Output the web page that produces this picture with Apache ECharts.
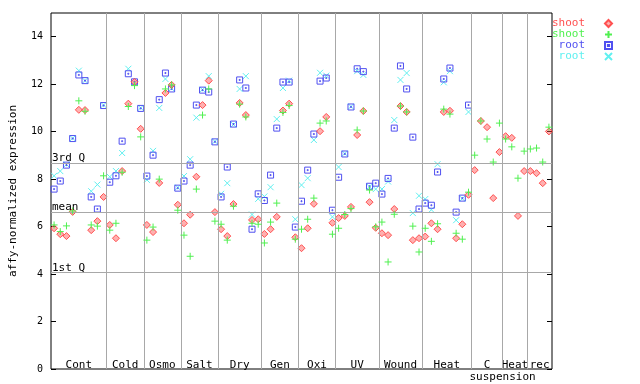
<!DOCTYPE html>
<html><head><meta charset="utf-8">
<script src="https://cdn.jsdelivr.net/npm/echarts@6/dist/echarts.min.js"></script>
<style>html,body{margin:0;padding:0;background:#fff}#c{width:640px;height:384px}</style>
</head><body><div id="c"></div>
<script>
// ---- data (one value per sample slot) ----
const shootRed = [5.93,5.68,5.60,6.62,10.92,10.91,5.85,6.23,7.25,
  6.07,5.51,8.34,11.18,12.10,10.12,
  6.07,5.77,7.84,11.63,11.97,6.92,
  6.14,6.50,8.10,11.12,12.15,6.61,
  5.89,5.60,6.95,11.21,10.70,6.28,6.31,
  5.69,5.89,6.41,10.89,11.18,5.55,
  5.09,5.93,6.96,10.02,10.62,6.16,
  6.36,6.45,6.83,9.86,10.87,7.03,5.95,
  5.72,5.64,6.74,11.08,10.83,5.43,5.51,
  5.58,6.14,5.89,10.83,10.88,5.51,6.10,7.34,
  8.38,10.45,10.19,7.20,9.14,
  9.81,9.74,6.45,8.34,
  8.34,8.25,7.83,10.01];
const shootGreen = [6.07,5.79,6.03,6.66,11.30,10.86,6.07,6.02,8.14,
  5.85,6.14,8.29,11.06,11.94,9.78,
  5.43,5.98,8.00,11.80,11.97,6.69,
  5.64,4.75,7.58,10.70,11.80,6.23,
  6.10,5.43,6.86,11.16,10.62,6.14,6.10,
  5.31,6.19,6.99,10.81,11.10,5.47,
  5.89,6.31,7.20,10.36,10.45,5.68,
  5.93,6.51,6.76,10.07,10.87,7.54,5.99,
  6.19,4.51,6.52,11.08,10.83,6.02,4.93,
  5.93,5.38,6.12,10.95,10.74,5.72,5.47,7.45,
  9.01,10.45,9.69,8.72,10.36,
  9.69,9.36,8.04,9.18,
  9.27,9.31,8.72,10.19];
const rootBlue = [7.58,7.92,8.59,9.71,12.39,12.15,7.25,6.74,11.10,
  7.87,8.14,9.60,12.44,12.10,10.98,
  8.13,9.01,11.35,12.47,11.80,7.62,
  7.92,8.59,11.12,11.75,11.67,9.57,
  7.25,8.51,10.32,12.18,11.84,5.89,7.38,
  7.10,8.17,10.15,12.09,12.09,5.98,
  7.07,8.38,9.90,12.13,12.26,6.69,
  8.08,9.06,11.04,12.65,12.53,7.70,7.83,
  7.37,8.03,10.15,12.77,11.80,9.77,6.74,
  6.99,6.90,8.30,12.22,12.68,6.61,7.20,11.12];
const rootCyan = [8.14,8.34,8.62,9.72,12.57,12.15,7.49,7.77,11.12,
  8.10,8.34,9.10,12.65,12.05,11.00,
  7.97,9.19,11.00,12.22,11.82,7.65,
  8.13,8.84,10.59,11.77,12.34,9.59,
  7.38,7.83,10.30,11.80,12.34,6.51,7.17,
  7.27,7.66,10.53,11.84,12.15,6.31,
  7.75,8.04,9.65,12.48,12.36,6.41,
  8.51,9.08,11.06,12.55,12.39,7.68,7.58,
  7.58,7.90,10.49,12.18,12.47,6.57,7.30,
  7.16,6.71,8.63,12.08,12.55,6.27,7.18,10.83];
const groupNames = ['Cont','Cold','Osmo','Salt','Dry','Gen','Oxi','UV','Wound','Heat','C','Heat','rec'];
const groupEdges = [0,9,15,21,27,34,40,46,53,60,68,73,77,81];
const secondLineText = 'suspension';
const secondLineAt = 73;
const yTicks = [0,2,4,6,8,10,12,14];
const refNames = ['3rd Q','mean','1st Q'];
const refValues = [8.675,6.61,4.08];
const seriesNames = ['shoot','shoot ','root','root '];
const seriesColors = ['#ff5050','#50f050','#5050f0','#60f0f0'];

const FONT = 'DejaVu Sans Mono';
const toPts = arr => arr.map((v,i)=>[i+0.5, v]);
const chart = echarts.init(document.getElementById('c'), null, {renderer:'canvas'});

const mk = (name, data, symbol, fill, stroke, z, size) => ({
  type:'scatter', name, data: toPts(data), symbol, symbolSize:size, z,
  itemStyle:{color:fill, borderColor:stroke, borderWidth:1, opacity:1},
  emphasis:{disabled:true}, animation:false
});

const option = {
  animation:false,
  backgroundColor:'#fff',
  grid:{left:44, right:88, top:13, bottom:15, show:true, borderColor:'#000', borderWidth:1, backgroundColor:'transparent'},
  legend:{
    data: seriesNames.map((n,i)=>({name:n, textStyle:{color:seriesColors[i]}})),
    orient:'vertical', right:27, top:18, padding:0, itemGap:0,
    align:'right', itemWidth:7, itemHeight:7,
    formatter: n => n.trim(),
    textStyle:{fontFamily:FONT, fontSize:11, lineHeight:11, padding:[0,15,0,0]},
    selectedMode:false
  },
  xAxis:{type:'value', min:0, max:81, axisLine:{show:false}, axisTick:{show:false},
    axisLabel:{show:false}, splitLine:{show:false}},
  yAxis:[
    {type:'value', min:0, max:15, position:'left',
      axisLine:{show:false}, splitLine:{show:false},
      axisTick:{show:true, inside:true, length:5, lineStyle:{color:'#000'}, customValues:yTicks},
      axisLabel:{show:true, margin:8, color:'#000', fontFamily:FONT, fontSize:10, customValues:yTicks},
      name:'affy-normalized expression', nameLocation:'middle', nameGap:32, nameRotate:90,
      nameTextStyle:{fontFamily:FONT, fontSize:11, color:'#000'}},
    {type:'value', min:0, max:15, position:'right',
      axisLine:{show:false}, splitLine:{show:false},
      axisTick:{show:true, inside:true, length:5, lineStyle:{color:'#000'}, customValues:yTicks},
      axisLabel:{show:false}}
  ],
  series:[
    {type:'scatter', name:'__guides', data:[], silent:true, z:1,
      markLine:{silent:true, symbol:'none', animation:false,
        lineStyle:{color:'#a8a8a8', width:1, type:'solid'},
        label:{show:false},
        emphasis:{disabled:true},
        data:[
          ...groupEdges.slice(1,-1).map(x=>({xAxis:x})),
          ...refValues.map((v,i)=>({yAxis:v, label:{show:true, formatter:refNames[i],
            position:'insideStartTop', distance:[1,-1], color:'#000', fontFamily:FONT, fontSize:11}}))
        ]}},
    mk(seriesNames[0], shootRed, 'diamond', 'rgba(255,80,80,0.45)', seriesColors[0], 4, 7),
    mk(seriesNames[1], shootGreen, 'path://M3,0V6M0,3H6', 'transparent', seriesColors[1], 5, 7),
    mk(seriesNames[2], rootBlue, 'path://M0,0H6V6H0Z M2.5,2.5H3.5V3.5H2.5Z', 'transparent', seriesColors[2], 3, 6),
    mk(seriesNames[3], rootCyan, 'path://M0,0L6,6M0,6L6,0', 'transparent', seriesColors[3], 2, 6)
  ]
};
chart.setOption(option);

const yPix = 365;
const graphics = [];
for (let g=0; g<groupNames.length; g++){
  const cx = (groupEdges[g]+groupEdges[g+1])/2;
  const px = chart.convertToPixel({xAxisIndex:0}, cx);
  graphics.push({type:'text', x:px, y:yPix, silent:true,
    style:{text:groupNames[g], fill:'#000', font:'11px "'+FONT+'"', textAlign:'center', textVerticalAlign:'middle'}});
}
graphics.push({type:'text', x:chart.convertToPixel({xAxisIndex:0}, secondLineAt), y:yPix+12, silent:true,
  style:{text:secondLineText, fill:'#000', font:'11px "'+FONT+'"', textAlign:'center', textVerticalAlign:'middle'}});
chart.setOption({graphic:graphics});
</script></body></html>
